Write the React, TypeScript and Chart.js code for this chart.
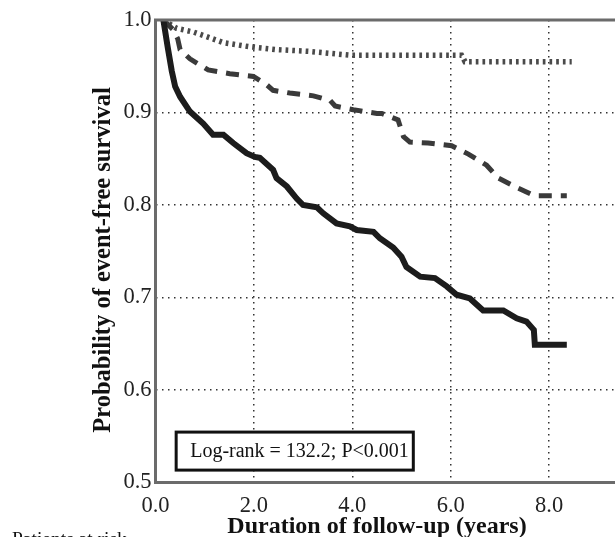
import React, { useEffect, useRef } from "react";
import { Chart, registerables } from "chart.js";

Chart.register(...registerables);

// ---- Data ----
const solidTime = [0.16, 0.25, 0.33, 0.40, 0.50, 0.70, 0.97, 1.17, 1.38, 1.58, 1.85, 2.02, 2.12, 2.39, 2.46, 2.67, 2.87, 3.0, 3.28, 3.41, 3.68, 3.95, 4.09, 4.43, 4.56, 4.83, 5.0, 5.1, 5.38, 5.68, 5.92, 6.12, 6.39, 6.66, 7.07, 7.34, 7.54, 7.69, 7.71, 8.36];
const solidSurv = [1.0, 0.97, 0.945, 0.928, 0.917, 0.901, 0.888, 0.876, 0.876, 0.867, 0.856, 0.852, 0.851, 0.838, 0.829, 0.820, 0.807, 0.800, 0.7975, 0.791, 0.780, 0.777, 0.773, 0.771, 0.764, 0.754, 0.744, 0.733, 0.7225, 0.721, 0.712, 0.703, 0.699, 0.686, 0.686, 0.6775, 0.674, 0.665, 0.649, 0.649];

const dashedTime = [0.16, 0.35, 0.45, 0.50, 0.70, 1.07, 1.51, 1.99, 2.26, 2.39, 2.73, 3.21, 3.55, 3.65, 4.02, 4.5, 4.6, 4.93, 5.04, 5.17, 5.54, 6.02, 6.36, 6.73, 6.97, 7.34, 7.71, 8.36];
const dashedSurv = [1.0, 0.99, 0.98, 0.968, 0.958, 0.946, 0.942, 0.939, 0.930, 0.924, 0.921, 0.918, 0.913, 0.907, 0.903, 0.899, 0.899, 0.892, 0.874, 0.868, 0.867, 0.864, 0.855, 0.843, 0.829, 0.819, 0.81, 0.81];

const dottedTime = [0.16, 0.43, 0.77, 1.04, 1.38, 1.92, 2.46, 3.14, 3.95, 6.22, 6.29, 8.46];
const dottedSurv = [1.0, 0.991, 0.987, 0.982, 0.9755, 0.971, 0.968, 0.966, 0.962, 0.962, 0.955, 0.955];

const xTickStep = 2;
const xMin = 0;
const xMax = 10;
const yMin = 0.5;
const yMax = 1.0;
const yTickStep = 0.1;

const xTitle = "Duration of follow-up (years)";
const yTitle = "Probability of event-free survival";
const statText = "Log-rank = 132.2; P<0.001";
const riskText = "Patients at risk";

const SERIF = '"Liberation Serif", "Times New Roman", serif';

const toPoints = (xs: number[], ys: number[]) => xs.map((x, i) => ({ x, y: ys[i] }));

const W = 700;
const H = 560;

const decorPlugin = {
  id: "decor",
  afterDraw(chart: any) {
    const ctx = chart.ctx;
    const { left, top, right, bottom } = chart.chartArea;
    const xs = chart.scales.x;
    const ys = chart.scales.y;
    ctx.save();
    // frame
    ctx.strokeStyle = "#6b6b6b";
    ctx.lineWidth = 3;
    ctx.strokeRect(left, top, right - left, bottom - top);

    // y title
    ctx.fillStyle = "#111";
    ctx.font = `bold 24.5px ${SERIF}`;
    ctx.textAlign = "center";
    ctx.textBaseline = "middle";
    ctx.save();
    ctx.translate(104, 260);
    ctx.rotate(-Math.PI / 2);
    ctx.fillText(yTitle, 0, 0);
    ctx.restore();

    // x title
    ctx.font = `bold 24px ${SERIF}`;
    ctx.fillText(xTitle, 377, 527);

    // stat box
    const bx0 = xs.getPixelForValue(0.42);
    const bx1 = xs.getPixelForValue(5.24);
    const by0 = ys.getPixelForValue(0.5545);
    const by1 = ys.getPixelForValue(0.5134);
    ctx.fillStyle = "#fff";
    ctx.fillRect(bx0, by0, bx1 - bx0, by1 - by0);
    ctx.strokeStyle = "#111";
    ctx.lineWidth = 3;
    ctx.strokeRect(bx0, by0, bx1 - bx0, by1 - by0);
    ctx.fillStyle = "#111";
    ctx.font = `20px ${SERIF}`;
    ctx.textAlign = "left";
    ctx.textBaseline = "middle";
    ctx.fillText(statText, bx0 + 14, (by0 + by1) / 2 + 1);

    // patients at risk
    ctx.font = `19.5px ${SERIF}`;
    ctx.textBaseline = "alphabetic";
    ctx.fillText(riskText, 12, 545);
    ctx.restore();
  },
};

export default function App() {
  const ref = useRef<HTMLCanvasElement | null>(null);

  useEffect(() => {
    if (!ref.current) return;
    const chart = new Chart(ref.current, {
      type: "line",
      data: {
        datasets: [
          {
            data: toPoints(solidTime, solidSurv),
            borderColor: "#1c1c1c",
            borderWidth: 6,
            pointRadius: 0,
            tension: 0,
            fill: false,
            borderJoinStyle: "miter",
          },
          {
            data: toPoints(dashedTime, dashedSurv),
            borderColor: "#3a3a3a",
            borderWidth: 5,
            borderDash: [13, 9],
            pointRadius: 0,
            tension: 0,
            fill: false,
          },
          {
            data: toPoints(dottedTime, dottedSurv),
            borderColor: "#4a4a4a",
            borderWidth: 5.5,
            borderDash: [2.7, 4],
            pointRadius: 0,
            tension: 0,
            fill: false,
          },
        ],
      },
      options: {
        responsive: false,
        animation: false,
        devicePixelRatio: 1,
        layout: { padding: { left: 0, top: 20, right: W - 647.5, bottom: 0 } },
        plugins: { legend: { display: false }, tooltip: { enabled: false } },
        scales: {
          x: {
            type: "linear",
            min: xMin,
            max: xMax,
            afterFit: (s: any) => {
              s.height = H - 482.5;
            },
            ticks: {
              stepSize: xTickStep,
              callback: (v: any) => Number(v).toFixed(1),
              font: { family: SERIF, size: 22.5 },
              color: "#222",
              padding: 10,
              maxRotation: 0,
              autoSkip: false,
            },
            grid: { color: "#333", lineWidth: 1.5, drawTicks: false },
            border: { display: false, dash: [1.5, 4.5] },
          },
          y: {
            type: "linear",
            min: yMin,
            max: yMax,
            afterFit: (s: any) => {
              s.width = 155.5;
            },
            ticks: {
              stepSize: yTickStep,
              callback: (v: any) => Number(v).toFixed(1),
              font: { family: SERIF, size: 22.5 },
              color: "#222",
              padding: 4,
            },
            grid: { color: "#333", lineWidth: 1.5, drawTicks: false },
            border: { display: false, dash: [1.5, 4.5] },
          },
        },
      },
      plugins: [decorPlugin],
    });
    return () => chart.destroy();
  }, []);

  return (
    <div style={{ position: "fixed", left: 0, top: 0, width: 615, height: 537, overflow: "hidden", background: "#fff" }}>
      <canvas ref={ref} width={W} height={H} style={{ position: "absolute", left: 0, top: 0, width: W, height: H }} />
    </div>
  );
}
